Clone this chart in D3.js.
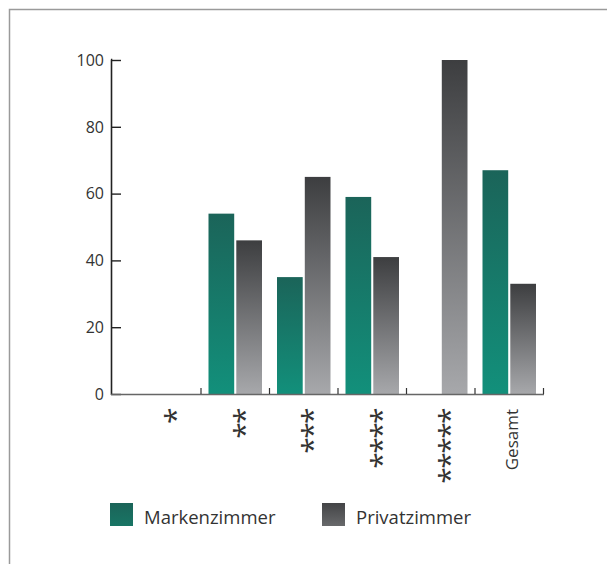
<!DOCTYPE html>
<html>
<head>
<meta charset="utf-8">
<script src="https://cdn.jsdelivr.net/npm/d3@7"></script>
<style>
  html, body { margin: 0; padding: 0; background: #fff; }
  svg { display: block; }
  text { font-family: "Open Sans", "Liberation Sans", sans-serif; fill: #333; }
</style>
</head>
<body>
<script>
// Hotel categories (star ratings) plus the overall total
const categories = ["*", "**", "***", "****", "*****", "Gesamt"];
const seriesNames = ["Markenzimmer", "Privatzimmer"];
// Share in percent per category
const markenzimmer = [null, 54, 35, 59, null, 67];
const privatzimmer = [null, 46, 65, 41, 100, 33];
const yTicks = [0, 20, 40, 60, 80, 100];

const W = 607, H = 564;
const svg = d3.select("body").append("svg").attr("width", W).attr("height", H);

const defs = svg.append("defs");
function vGrad(id, top, bottom) {
  const g = defs.append("linearGradient").attr("id", id)
    .attr("x1", 0).attr("y1", 0).attr("x2", 0).attr("y2", 1);
  g.append("stop").attr("offset", "0%").attr("stop-color", top);
  g.append("stop").attr("offset", "100%").attr("stop-color", bottom);
}
vGrad("gGreen", "#1b6459", "#12907b");
vGrad("gGray", "#3d3e40", "#a7a8ab");
vGrad("gGreenKey", "#1b6459", "#187564");
vGrad("gGrayKey", "#434446", "#68696b");

// Outer frame (top and left edges)
svg.append("path")
  .attr("d", `M9.5,${H} V9.5 H${W}`)
  .attr("fill", "none").attr("stroke", "#9a9a9a").attr("stroke-width", 1.5);

const x0 = 111, y0 = 394, yTop = 60;
const x = d3.scaleBand().domain(categories).range([132.5, 543.5]).paddingInner(0).paddingOuter(0);
// Pair of bars inside each category band
const xs = d3.scaleBand().domain(seriesNames).range([7.5, 61]).paddingInner(0.075).paddingOuter(0);
const y = d3.scaleLinear().domain([0, 100]).range([y0, yTop]);

const fills = { Markenzimmer: "url(#gGreen)", Privatzimmer: "url(#gGray)" };
const rows = [];
categories.forEach((c, i) => {
  [["Markenzimmer", markenzimmer[i]], ["Privatzimmer", privatzimmer[i]]].forEach(([s, v]) => {
    if (v != null) rows.push({ c, s, v });
  });
});

svg.append("g").selectAll("rect").data(rows).join("rect")
  .attr("x", d => x(d.c) + xs(d.s))
  .attr("y", d => y(d.v))
  .attr("width", xs.bandwidth())
  .attr("height", d => y0 - y(d.v))
  .attr("fill", d => fills[d.s]);

// Y axis with inward ticks
const yAxis = svg.append("g").attr("transform", `translate(${x0},0)`)
  .call(d3.axisRight(y).tickValues(yTicks).tickSize(10).tickFormat(""));
yAxis.select(".domain").attr("d", `M0,${yTop - 0.5}H0.5V${y0 + 1}`).attr("stroke", "#222").attr("stroke-width", 1.6);
yAxis.selectAll(".tick line").attr("stroke", "#222").attr("stroke-width", 1.4);

svg.append("g").selectAll("text").data(yTicks).join("text")
  .attr("x", 104).attr("y", d => y(d))
  .attr("dy", "0.36em")
  .attr("text-anchor", "end")
  .attr("font-size", 16)
  .text(d => d);

// X axis baseline and group separators
svg.append("line")
  .attr("x1", x0).attr("x2", 544).attr("y1", y0 + 0.5).attr("y2", y0 + 0.5)
  .attr("stroke", "#666").attr("stroke-width", 1.6);
svg.append("g").selectAll("line").data(categories).join("line")
  .attr("x1", d => x(d) + x.bandwidth()).attr("x2", d => x(d) + x.bandwidth())
  .attr("y1", y0 - 6).attr("y2", y0)
  .attr("stroke", "#333").attr("stroke-width", 1.2);

// Category labels, rotated to read bottom-up
const labels = svg.append("g");
categories.forEach(c => {
  const cx = x(c) + x.bandwidth() / 2 + 2.5;
  const stars = /^\*+$/.test(c);
  labels.append("text")
    .attr("transform", `translate(${cx},${stars ? 409 : 409}) rotate(-90)`)
    .attr("text-anchor", "end")
    .attr("dy", stars ? "0.56em" : "0.35em")
    .attr("font-family", stars ? "DejaVu Sans" : null)
    .attr("font-size", stars ? 30 : 17)
    .attr("letter-spacing", stars ? -1.6 : null)
    .text(c);
});

// Legend
const legendX = [110, 322];
const legend = svg.append("g").selectAll("g").data(seriesNames).join("g")
  .attr("transform", (d, i) => `translate(${legendX[i]},503)`);
legend.append("rect").attr("width", 23).attr("height", 23)
  .attr("fill", (d, i) => i === 0 ? "url(#gGreenKey)" : "url(#gGrayKey)");
legend.append("text").attr("x", 34).attr("y", 21).attr("font-size", 18.5).text(d => d);
</script>
</body>
</html>
